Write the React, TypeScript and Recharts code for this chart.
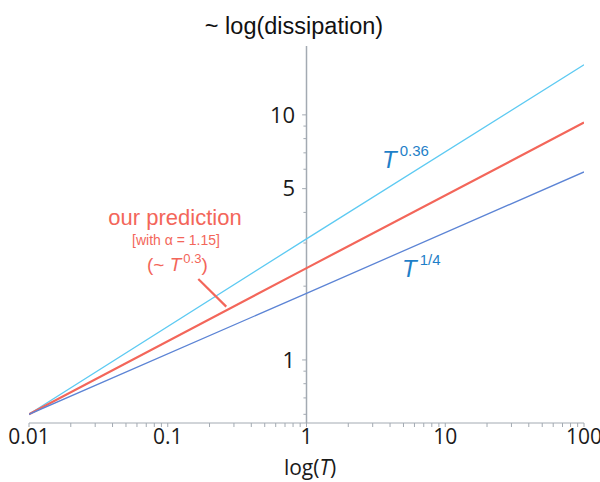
import { Customized, Line, LineChart, ReferenceLine, XAxis, YAxis } from "recharts";

const T_VALUES = [0.01, 1, 100];
const FIT_036 = [0.6, 3.12, 16.0];
const PREDICTION = [0.6, 2.37, 9.3];
const FIT_QUARTER = [0.6, 1.87, 5.85];

const X_MAJOR = [0.01, 0.1, 1, 10, 100];
const X_MINOR = [
  0.02, 0.03, 0.04, 0.05, 0.06, 0.07, 0.08, 0.09,
  0.2, 0.3, 0.4, 0.5, 0.6, 0.7, 0.8, 0.9,
  2, 3, 4, 5, 6, 7, 8, 9,
  20, 30, 40, 50, 60, 70, 80, 90,
];
const Y_MAJOR = [1, 5, 10];
const Y_MINOR = [0.6, 0.7, 0.8, 0.9, 2, 3, 4, 6, 7, 8, 9];

const POINTER = [
  { x: 0.166, y: 2.14 },
  { x: 0.264, y: 1.65 },
];

const AXIS = "#a3aab2";
const CYAN = "#5dcaf2";
const RED = "#f3665a";
const BLUE = "#5c84d5";
const LABEL_BLUE = "#1f7fc8";
const SANS = "Arial, 'Liberation Sans', sans-serif";
const TICK_FONT = "'Open Sans', 'Noto Sans', sans-serif";

const data = T_VALUES.map((T, i) => ({
  T,
  fit036: FIT_036[i],
  prediction: PREDICTION[i],
  fitQuarter: FIT_QUARTER[i],
}));

function Annotations() {
  return (
    <g>
      <text x={294} y={34} textAnchor="middle" fontSize={23.5} fontFamily={SANS} fill="#111">
        ~ log(dissipation)
      </text>

      <text x={175} y={225} textAnchor="middle" fontSize={22} fontFamily={SANS} fill={RED}>
        our prediction
      </text>
      <text x={176} y={245} textAnchor="middle" fontSize={14} fontFamily={SANS} fill={RED}>
        [with α = 1.15]
      </text>
      <text x={147} y={271} fontSize={19} fontFamily={SANS} fill={RED}>
        (~ <tspan fontStyle="italic">T</tspan>
        <tspan fontSize={13} dy={-8} dx={2}>0.3</tspan>
        <tspan dy={8}>)</tspan>
      </text>

      <text x={382} y={168} fontSize={24} fontFamily={SANS} fill={LABEL_BLUE}>
        <tspan fontStyle="italic">T</tspan>
        <tspan fontSize={15} dx={3} dy={-12}>0.36</tspan>
      </text>
      <text x={402} y={277} fontSize={24} fontFamily={SANS} fill={LABEL_BLUE}>
        <tspan fontStyle="italic">T</tspan>
        <tspan fontSize={15} dx={3} dy={-12}>1/4</tspan>
      </text>
    </g>
  );
}

export default function App() {
  return (
    <div style={{ position: "absolute", left: 0, top: 0 }}>
      <LineChart width={600} height={482} data={data} margin={{ top: 46, right: 16, bottom: 0, left: 29 }}>
        <XAxis
          dataKey="T"
          type="number"
          scale="log"
          domain={[0.01, 100]}
          allowDataOverflow
          ticks={[...X_MAJOR, ...X_MINOR]}
          interval={0}
          tickFormatter={(v: number) => (X_MAJOR.includes(v) ? String(v) : "")}
          height={59}
          stroke={AXIS}
          tickSize={4}
          tick={{ fontSize: 21, fontFamily: TICK_FONT, fill: "#1a1a1a" }}
          label={{
            content: () => (
              <text x={310} y={475} textAnchor="middle" fontSize={21} fontFamily={TICK_FONT} fill="#1a1a1a">
                log(<tspan fontStyle="italic">T</tspan>)
              </text>
            ),
          }}
        />
        <YAxis hide type="number" scale="log" domain={[0.553, 19.1]} allowDataOverflow />

        <ReferenceLine x={1} stroke={AXIS} strokeWidth={1.5} />
        {Y_MINOR.map((v) => (
          <ReferenceLine
            key={`ym-${v}`}
            segment={[{ x: 0.95, y: v }, { x: 1, y: v }]}
            stroke={AXIS}
            strokeWidth={1}
          />
        ))}
        {Y_MAJOR.map((v) => (
          <ReferenceLine
            key={`yM-${v}`}
            segment={[{ x: 0.93, y: v }, { x: 1, y: v }]}
            stroke={AXIS}
            strokeWidth={1}
            label={{ value: String(v), position: "left", offset: 7, fontSize: 22, fontFamily: TICK_FONT, fill: "#1a1a1a" }}
          />
        ))}

        <Line dataKey="fit036" type="linear" stroke={CYAN} strokeWidth={1.3} dot={false} isAnimationActive={false} />
        <Line dataKey="prediction" type="linear" stroke={RED} strokeWidth={2.2} dot={false} isAnimationActive={false} />
        <Line dataKey="fitQuarter" type="linear" stroke={BLUE} strokeWidth={1.3} dot={false} isAnimationActive={false} />

        <ReferenceLine segment={POINTER} stroke={RED} strokeWidth={2.2} />
        <Customized component={Annotations} />
      </LineChart>
    </div>
  );
}
